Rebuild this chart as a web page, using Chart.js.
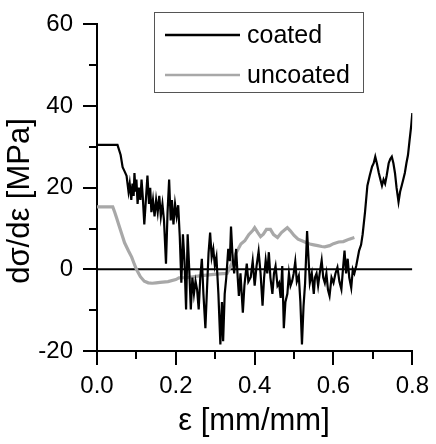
<!DOCTYPE html>
<html>
<head>
<meta charset="utf-8">
<script src="https://cdn.jsdelivr.net/npm/chart.js@4/dist/chart.umd.min.js"></script>
<style>
html,body{margin:0;padding:0;background:#fff;}
#wrap{position:relative;width:436px;height:444px;}
</style>
</head>
<body>
<div id="wrap"><canvas id="c" width="436" height="444"></canvas></div>
<script>
// ---- data ----
const seriesNames = ["coated", "uncoated"];
const xTitle = "ε [mm/mm]";
const yTitle = "dσ/dε [MPa]";
const xTickValues = [0.0, 0.2, 0.4, 0.6, 0.8];
const yTickValues = [-20, 0, 20, 40, 60];

const coatedX = [0.000,0.052,0.060,0.065,0.070,0.075,0.080,0.083,0.087,0.090,0.093,0.095,0.098,0.100,0.103,0.106,0.110,0.113,0.116,0.120,
0.124,0.128,0.132,0.135,0.138,0.142,0.146,0.150,0.154,0.158,0.162,0.166,0.170,0.175,0.179,0.183,0.187,0.190,0.194,0.198,
0.202,0.206,0.210,0.214,0.218,0.222,0.226,0.230,0.234,0.238,0.242,0.246,0.250,0.254,0.258,0.262,0.266,0.270,0.275,0.279,
0.283,0.287,0.291,0.295,0.299,0.303,0.308,0.313,0.317,0.320,0.324,0.328,0.333,0.337,0.340,0.344,0.348,0.353,0.357,0.360,
0.364,0.370,0.374,0.380,0.384,0.390,0.395,0.400,0.405,0.410,0.415,0.420,0.424,0.428,0.432,0.436,0.440,0.445,0.449,0.453,
0.458,0.462,0.466,0.470,0.474,0.478,0.483,0.487,0.491,0.495,0.499,0.503,0.507,0.512,0.516,0.520,0.524,0.528,0.533,0.537,
0.540,0.545,0.550,0.553,0.557,0.561,0.565,0.570,0.574,0.578,0.582,0.586,0.590,0.595,0.600,0.605,0.610,0.615,0.620,0.624,
0.628,0.632,0.636,0.640,0.645,0.649,0.653,0.658,0.665,0.670,0.674,0.680,0.686,0.692,0.698,0.702,0.706,0.710,0.715,0.719,
0.723,0.727,0.731,0.735,0.740,0.744,0.748,0.752,0.756,0.760,0.765,0.769,0.773,0.777,0.781,0.785,0.789,0.793,0.797,0.800];
const coatedY = [30.5,30.5,28,25,24,22.9,19,21,17,21,18,23.6,19,22,16,20,17,22,18,11,
17,23,16,20,14,17,13,17,14,18,13,16,12,1.4,14,22,12,17,11,16,
13,15.7,8,-3.3,8.6,2,-9.8,8.6,0,-9.8,-2,-6,-2.9,-5,-9.8,-2,2.6,-6,-14.4,-5,
4,9,3,5,1,3,-6,-18.4,-8,-17.6,-6,-2,5,2,10.5,3,-1,5,-2,-6.5,
-1,-10.6,-4,1.4,-3,-1.9,2,-4,1,4.4,-1,-8.9,-2,2.2,-1,4.2,-2,-6,-1,0.8,
-4,-3.3,-7,0.8,-14.4,-8,-6,-1,-4,-2.9,-1,1.9,-3,-1.6,-8,-18.4,-9,-3.3,9.4,2,
-3.3,-1,-6,-2,-1,-4,-1,2.2,-2,-3.3,-1,-5,-6.5,-2,-3.3,-1,0.5,-3,-4.9,0,
4.6,-1,2.6,-2,-4.5,0,-1,1,4.6,6,8.6,14,20.5,23,25.2,26,27.6,26,23.6,22,
20.5,22,21,23,26,27,27.6,26,23.6,20,16.5,19,20.5,22,23.6,26,28,31.6,35,38.3];

const uncoatedX = [0.000,0.040,0.045,0.050,0.055,0.063,0.070,0.080,0.088,0.095,0.100,0.110,0.120,0.130,0.140,0.150,0.160,0.180,0.200,0.208,
0.230,0.260,0.290,0.310,0.330,0.340,0.350,0.365,0.375,0.385,0.395,0.400,0.408,0.415,0.422,0.430,0.440,0.448,0.458,0.468,
0.478,0.483,0.490,0.500,0.510,0.520,0.530,0.540,0.550,0.560,0.570,0.578,0.590,0.600,0.613,0.625,0.640,0.653];
const uncoatedY = [15.3,15.3,14,12.5,11,8.6,6.5,4.5,3,1.2,0,-1.8,-2.9,-3.3,-3.4,-3.3,-3.2,-3.0,-2.5,-2.1,
-2.0,-1.6,-1.3,-1.1,-1.0,1,3.5,6.2,7,8.5,9.5,10.2,9,8,8.6,9.8,9.8,8.5,7.8,9,
9.8,10.2,9.5,8.3,7.4,7,6.6,6.2,6.0,5.8,5.6,5.5,5.8,6.3,6.7,6.8,7.4,7.8];

const zeroLineX = [0.0, 0.8];
const zeroLineY = [0, 0];

// ---- build chart ----
const pts = (xs, ys) => xs.map((x, i) => ({x: x, y: ys[i]}));
const FONT = "'Liberation Sans', Arial, Helvetica, sans-serif";

const tickPlugin = {
  id: 'ticksAndTitles',
  afterDraw(chart) {
    const ctx = chart.ctx;
    const xs = chart.scales.x, ys = chart.scales.y;
    const area = chart.chartArea;
    ctx.save();
    ctx.strokeStyle = '#000';
    ctx.lineWidth = 2;
    // x ticks (major every 0.2, minor every 0.1)
    for (let i = 0; i <= 8; i++) {
      const v = i / 10;
      const px = Math.round(xs.getPixelForValue(v));
      const len = (i % 2 === 0) ? 14 : 8;
      ctx.beginPath();
      ctx.moveTo(px, area.bottom);
      ctx.lineTo(px, area.bottom + len);
      ctx.stroke();
    }
    // y ticks (major every 20, minor every 10)
    for (let v = -20; v <= 60; v += 10) {
      const py = Math.round(ys.getPixelForValue(v));
      const len = (v % 20 === 0) ? 14 : 8;
      ctx.beginPath();
      ctx.moveTo(area.left, py);
      ctx.lineTo(area.left - len, py);
      ctx.stroke();
    }
    // axis titles
    ctx.fillStyle = '#000';
    ctx.font = '31px ' + FONT;
    ctx.textAlign = 'center';
    ctx.textBaseline = 'middle';
    ctx.fillText(xTitle, 254, 421);
    ctx.translate(20, 201);
    ctx.rotate(-Math.PI / 2);
    ctx.fillText(yTitle, 0, 0);
    ctx.restore();

    // legend box
    ctx.save();
    ctx.strokeStyle = '#555';
    ctx.lineWidth = 1;
    ctx.strokeRect(154.5, 12.5, 209, 80);
    const ds = chart.data.datasets;
    const rows = [35, 75];
    ctx.font = '25px ' + FONT;
    ctx.textAlign = 'left';
    ctx.textBaseline = 'middle';
    for (let i = 0; i < 2; i++) {
      ctx.strokeStyle = ds[i].borderColor;
      ctx.lineWidth = 2.5;
      ctx.beginPath();
      ctx.moveTo(165, rows[i]);
      ctx.lineTo(240, rows[i]);
      ctx.stroke();
      ctx.fillStyle = '#000';
      ctx.fillText(ds[i].label, 247, rows[i] + 1);
    }
    ctx.restore();
  }
};

new Chart(document.getElementById('c'), {
  type: 'line',
  data: {
    datasets: [
      {label: seriesNames[0], data: pts(coatedX, coatedY), borderColor: '#000', borderWidth: 2.2, pointRadius: 0, tension: 0},
      {label: seriesNames[1], data: pts(uncoatedX, uncoatedY), borderColor: '#a8a8a8', borderWidth: 3.2, pointRadius: 0, tension: 0},
      {label: 'zero', data: pts(zeroLineX, zeroLineY), borderColor: '#000', borderWidth: 2, pointRadius: 0, tension: 0}
    ]
  },
  options: {
    responsive: false,
    animation: false,
    devicePixelRatio: 1,
    layout: {padding: {top: 14, right: 19, left: 0, bottom: 0}},
    plugins: {legend: {display: false}, tooltip: {enabled: false}},
    scales: {
      x: {
        type: 'linear', min: 0, max: 0.8,
        afterBuildTicks: s => { s.ticks = xTickValues.map(v => ({value: v})); },
        afterFit: s => { s.height = 93; },
        grid: {display: true, drawOnChartArea: false, drawTicks: true, tickLength: 14, color: 'rgba(0,0,0,0)'},
        border: {display: true, color: '#000', width: 2},
        ticks: {padding: 7, color: '#000', font: {family: FONT, size: 24}, maxRotation: 0,
                callback: v => Number(v).toFixed(1)}
      },
      y: {
        type: 'linear', min: -20, max: 60,
        afterBuildTicks: s => { s.ticks = yTickValues.map(v => ({value: v})); },
        afterFit: s => { s.width = 97; },
        grid: {display: true, drawOnChartArea: false, drawTicks: true, tickLength: 14, color: 'rgba(0,0,0,0)'},
        border: {display: true, color: '#000', width: 2},
        ticks: {padding: 10, color: '#000', font: {family: FONT, size: 24},
                callback: v => String(v)}
      }
    }
  },
  plugins: [tickPlugin]
});
</script>
</body>
</html>
